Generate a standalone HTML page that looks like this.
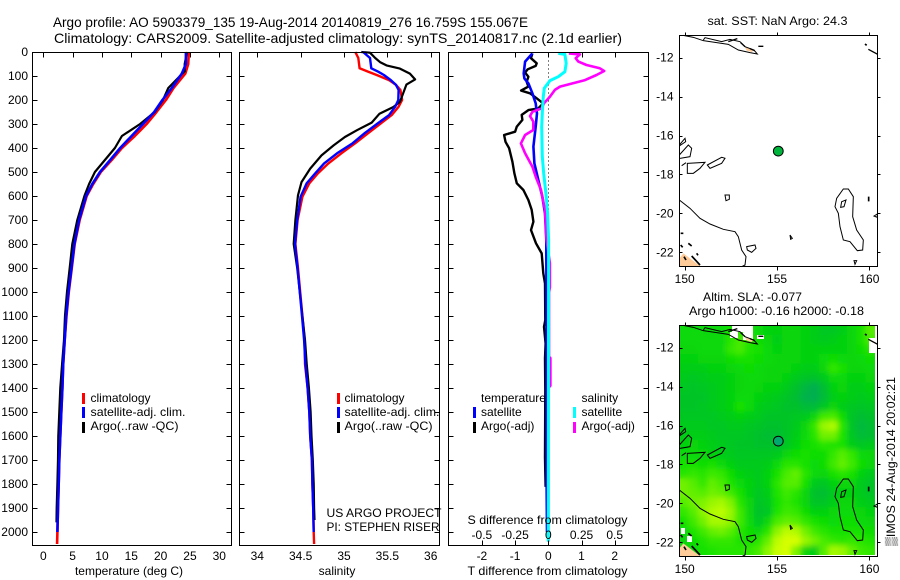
<!DOCTYPE html>
<html>
<head>
<meta charset="utf-8">
<title>Argo profile</title>
<style>
html,body{margin:0;padding:0;background:#fff;}
svg{display:block;}
text{font-family:"Liberation Sans",Arial,sans-serif;font-size:12px;fill:#000;}
.ttl{font-size:14px;}
.mid{text-anchor:middle;}
.end{text-anchor:end;}
</style>
</head>
<body>
<svg id="fig" xmlns="http://www.w3.org/2000/svg" width="900" height="580" viewBox="0 0 900 580">
<defs>
<filter id="soften" filterUnits="userSpaceOnUse" x="679.3" y="325.3" width="195.7" height="229.7">
  <feGaussianBlur in="SourceGraphic" stdDeviation="3" result="b"/>
  <feMerge><feMergeNode in="SourceGraphic"/><feMergeNode in="b"/></feMerge>
</filter>
<g id="coast" transform="translate(650,0) scale(0.33333)" fill="none" stroke="#000" stroke-width="3">
  <path fill="#ffcc99" stroke="none" d="M88,800 L88,775 L100,760 L150,798 L150,800 Z M285,142 L312,150 L305,156 L290,152 Z M656,148 L672,155 L668,158 Z"/>
  <path d="M100,106 L130,112 L160,122 L200,128 L235,133 L265,150 L300,158 L322,162 L312,150 L285,140 L270,125 L240,118 L215,125 L165,113 L160,120"/>
  <path stroke-width="4" d="M235,125 L262,116 M272,128 L285,140 M300,146 L314,152 M325,139 L340,139 M655,148 L683,163"/>
  <path d="M88,435 L105,415 L107,425 L88,438 M88,465 L115,435 L125,445 L120,470 L90,475 M95,497 L108,488 M112,490 L165,487 L150,505 L130,520 L112,520 Z M172,495 L215,472 L225,475 L215,490 L180,505 Z M225,585 L238,585 L238,598 L228,602 Z"/>
  <path d="M88,600 L120,625 L150,655 L180,672 L220,688 L255,695 L265,710 L275,750 L288,770 L285,795 L275,800"/>
  <path d="M290,740 L315,735 L318,745 L305,757 L292,750 Z M420,705 L427,715 L422,718 Z M612,782 L620,782 L615,793 Z M672,648 L682,642 L682,652 Z"/>
  <path d="M580,567 L595,567 L610,590 L608,650 L620,690 L640,720 L638,750 L622,752 L600,725 L580,720 L570,680 L565,640 L555,620 L560,595 Z M575,605 L588,600 L582,620 L572,622 Z"/>
  <path stroke-width="5" d="M656,590 L656,604 M645,132 L650,136 M92,700 L100,700 M92,735 L98,742 M115,730 L125,738 M102,770 L108,780 M125,768 L150,795 M140,760 L144,766"/>
</g>
</defs>
<rect width="900" height="580" fill="#fff"/>

<text class="ttl" x="53" y="27" textLength="475" lengthAdjust="spacingAndGlyphs">Argo profile: AO 5903379_135 19-Aug-2014 20140819_276 16.759S 155.067E</text>
<text class="ttl" x="54" y="43" textLength="568" lengthAdjust="spacingAndGlyphs">Climatology: CARS2009. Satellite-adjusted climatology: synTS_20140817.nc (2.1d earlier)</text>

<g id="p1"></g>
<g id="p2"></g>
<g id="p3"></g>
<g id="m1"></g>
<g id="m2"></g>

<g>
  <rect x="82" y="393" width="3" height="11" fill="#f00"/>
  <rect x="82" y="407" width="3" height="11" fill="#00f"/>
  <rect x="82" y="422" width="3" height="11" fill="#000"/>
  <text x="90.5" y="402">climatology</text>
  <text x="90.5" y="416" textLength="95" lengthAdjust="spacingAndGlyphs">satellite-adj. clim.</text>
  <text x="90.5" y="430" textLength="88" lengthAdjust="spacingAndGlyphs">Argo(..raw -QC)</text>
</g>
<g>
  <rect x="337" y="393" width="3" height="11" fill="#f00"/>
  <rect x="337" y="407" width="3" height="11" fill="#00f"/>
  <rect x="337" y="422" width="3" height="11" fill="#000"/>
  <text x="344.5" y="402">climatology</text>
  <text x="344.5" y="416" textLength="95" lengthAdjust="spacingAndGlyphs">satellite-adj. clim.</text>
  <text x="344.5" y="430" textLength="88" lengthAdjust="spacingAndGlyphs">Argo(..raw -QC)</text>
</g>
<g>
  <text x="481" y="402" textLength="65" lengthAdjust="spacingAndGlyphs">temperature</text>
  <text x="581.5" y="402">salinity</text>
  <rect x="473" y="407" width="3" height="11" fill="#00f"/>
  <rect x="473" y="422" width="3" height="11" fill="#000"/>
  <rect x="573" y="407" width="3" height="11" fill="#0ff"/>
  <rect x="573" y="422" width="3" height="11" fill="#f0f"/>
  <text x="481" y="416">satellite</text>
  <text x="481" y="430">Argo(-adj)</text>
  <text x="581.5" y="416">satellite</text>
  <text x="581.5" y="430">Argo(-adj)</text>
</g>

<text x="326.5" y="517" textLength="115" lengthAdjust="spacingAndGlyphs">US ARGO PROJECT</text>
<text x="326.5" y="531" textLength="113" lengthAdjust="spacingAndGlyphs">PI: STEPHEN RISER</text>
<text x="467.5" y="524" textLength="160" lengthAdjust="spacingAndGlyphs">S difference from climatology</text>

<text class="mid" x="129" y="575">temperature (deg C)</text>
<text class="mid" x="337" y="575">salinity</text>
<text x="467.5" y="575" textLength="160" lengthAdjust="spacingAndGlyphs">T difference from climatology</text>

<text x="707.5" y="25" textLength="140" lengthAdjust="spacingAndGlyphs">sat. SST: NaN Argo: 24.3</text>
<text x="703" y="301" textLength="99" lengthAdjust="spacingAndGlyphs">Altim. SLA: -0.077</text>
<text x="689" y="315" textLength="175" lengthAdjust="spacingAndGlyphs">Argo h1000: -0.16 h2000: -0.18</text>
<text transform="translate(895,546) rotate(-90)" textLength="169" lengthAdjust="spacingAndGlyphs">▒IMOS 24-Aug-2014 20:02:21</text>

<script>
/* depth axis */
const depthTicks = [0,100,200,300,400,500,600,700,800,900,1000,1100,1200,1300,1400,1500,1600,1700,1800,1900,2000];
/* temperature panel */
const tempTicks = [0,5,10,15,20,25,30];
const tempDepths = [0,50,90,150,200,250,300,350,400,450,500,550,600,700,800,900,1000,1100,1200,1300,1400,1500,1600,1700,1800,1900,2000,2050];
const tempClim = [24.8,24.7,24.2,22.2,20.9,19.3,17.6,15.6,13.4,11.65,9.8,8.5,7.4,6.2,5.35,4.85,4.35,3.95,3.65,3.4,3.25,3.07,2.9,2.73,2.62,2.5,2.4,2.35];
const tempSat = [24.3,24.3,23.6,21.9,20.3,18.9,17,15.05,13.1,11.4,9.66,8.35,7.3,6.1,5.3,4.8,4.3,3.9,3.65,3.4,3.25,3.07,2.9,2.73,2.62,2.5,2.4];
const tempArgoDepths = [0,50,80,100,150,200,250,300,350,400,450,500,550,600,700,800,900,1000,1100,1200,1300,1400,1500,1600,1700,1800,1900,1960];
const tempArgo = [24.5,24.1,24.1,23.3,21.3,20.4,19,16.5,13.4,12.2,10.5,8.8,7.8,7,5.8,4.95,4.5,4.04,3.7,3.53,3.2,2.9,2.73,2.56,2.5,2.4,2.28,2.25];
/* salinity panel */
const salTicks = [34,34.5,35,35.5,36];
const salTickLabels = ["34","34.5","35","35.5","36"];
const salDepths = [0,25,68,82,96,117,137,158,200,228,263,300,338,380,422,464,505,547,603,700,800,900,1000,1100,1200,1300,1400,1500,1600,1700,1800,1900,2000,2050];
const salClim = [35.13,35.165,35.18,35.28,35.377,35.52,35.6,35.65,35.67,35.63,35.55,35.415,35.28,35.13,34.97,34.82,34.7,34.6,34.52,34.465,34.44,34.47,34.495,34.52,34.545,34.55,34.58,34.6,34.61,34.63,34.635,34.645,34.65,34.655];
const salSat = [35.22,35.3,35.315,35.395,35.46,35.54,35.6,35.63,35.626,35.59,35.52,35.38,35.24,35.1,34.92,34.77,34.67,34.57,34.5,34.46,34.435,34.465,34.49,34.515,34.54,34.555,34.58,34.6,34.61,34.63,34.635,34.645,34.65];
const salArgoDepths = [0,3,25,42,56,69,90,114,136,174,208,229,257,294,326,354,389,431,486,542,597,700,800,900,1000,1100,1200,1300,1400,1500,1600,1700,1800,1900,1950];
const salArgo = [35.2,35.3,35.36,35.415,35.49,35.645,35.76,35.82,35.72,35.68,35.645,35.57,35.41,35.32,35.15,35.01,34.88,34.74,34.61,34.51,34.47,34.44,34.42,34.46,34.49,34.52,34.55,34.57,34.595,34.615,34.625,34.64,34.65,34.655,34.66];
/* difference panel */
const tDiffTicks = [-2,-1,0,1,2];
const sDiffTicks = [-0.5,-0.25,0,0.25,0.5];
const sDiffTickLabels = ["-0.5","-0.25","0","0.25","0.5"];
const tArgoDepths = [6,26,47,58,72,86,103,124,144,161,172,186,214,235,242,262,283,311,332,346,374,401,457,506,547,575,617,658,707,742,797,839,922,964,1117,1145,1214,1276,1408,1690,1812];
const tArgoDiff = [-0.48,-0.52,-0.35,-0.38,-0.62,-0.7,-0.6,-0.65,-0.6,-0.82,-0.55,-0.42,-0.15,-0.3,-0.6,-0.8,-0.78,-0.95,-1,-1.33,-1.29,-1.18,-1.08,-1.02,-0.95,-0.75,-0.6,-0.5,-0.45,-0.52,-0.37,-0.2,-0.15,-0.1,-0.09,-0.13,-0.08,-0.1,-0.09,-0.1,-0.08];
const tSatDepths = [6,40,89,110,131,172,214,256,311,394,464,533,603,672,783,1200,1800,2000];
const tSatDiff = [-0.48,-0.7,-0.74,-0.72,-0.6,-0.48,-0.38,-0.34,-0.38,-0.45,-0.42,-0.3,-0.18,-0.1,-0.06,-0.05,-0.05,-0.04];
const sArgoDepths = [6,10,26,40,54,68,79,96,117,128,144,158,186,214,235,249,267,290,325,346,381,422,478,519,575,658,783,880,980,1000,1270,1275,1390,1400,2040];
const sArgoDiff = [0.155,0.238,0.206,0.226,0.288,0.388,0.421,0.363,0.276,0.2,0.088,0.05,0.0125,-0.033,-0.05,-0.12,-0.138,-0.113,-0.113,-0.175,-0.206,-0.175,-0.12,-0.095,-0.055,-0.025,-0.0125,0.012,0.012,0.005,0.005,0.016,0.016,0,0];
const sSatDepths = [6,10,47,82,103,119,151,186,228,311,436,506,589,672,783,2040];
const sSatDiff = [0.075,0.125,0.135,0.125,0.075,0.0125,-0.03,-0.038,-0.043,-0.05,-0.045,-0.035,-0.018,-0.005,0.0025,0];
/* maps */
const lonTicks = [150,155,160];
const latTicks = [-12,-14,-16,-18,-20,-22];
const profileLon = [155.067];
const profileLat = [-16.759];
/* sea level anomaly, centimetres, rows north to south, half-degree cells */
const slaGrid = [
[-2,-2,-2,-3,-2,0,2,0,-2,-4,-4,-3,-3,-4,-5,-7,-7,-5,-3,0,6],
[-2,-2,-2,-2,-2,2,5,2,-1,-3,-5,-3,-3,-4,-5,-6,-5,-4,-3,0,5],
[-3,-3,-2,-2,-2,3,5,1,0,-2,-4,-3,-3,-4,-4,-4,-4,-4,-3,-1,2],
[-4,-4,-3,-3,-3,-1,0,0,-1,-2,-3,-3,-3,-4,-4,-2,-1,-2,-3,-2,-1],
[-5,-5,-5,-4,-4,-3,-2,-1,-2,-3,-3,-3,-4,-5,-5,-3,3,0,-3,-3,-2],
[-6,-7,-6,-5,-5,-4,-3,-2,-2,-3,-3,-4,-6,-8,-9,-6,-2,-2,-4,-4,-3],
[-7,-8,-7,-6,-5,-4,-3,-2,-3,-4,-4,-6,-9,-13,-16,-10,-4,-3,-5,-5,-4],
[-8,-8,-8,-6,-5,-4,-2,-2,-4,-5,-6,-8,-10,-15,-16,-11,-5,-4,-5,-6,-5],
[-8,-8,-7,-6,-5,-4,0,-2,-5,-6,-7,-9,-9,-11,-11,-7,-3,-5,-7,-8,-7],
[-7,-7,-7,-7,-6,-5,-4,-5,-6,-8,-8,-8,-7,-6,-3,4,5,-1,-8,-10,-9],
[-6,-6,-6,-7,-7,-6,-6,-7,-8,-9,-9,-8,-6,-3,3,11,13,2,-8,-12,-10],
[-5,-5,-5,-6,-7,-7,-7,-8,-9,-10,-10,-8,-5,-2,2,8,8,1,-7,-11,-10],
[-4,-3,-4,-5,-6,-7,-8,-8,-9,-9,-10,-7,-4,-1,0,2,1,0,-5,-7,-6],
[-2,-2,-3,-4,-5,-6,-7,-7,-7,-7,-6,-3,-1,0,-1,-1,3,6,3,-2,-3],
[0,0,-1,0,-2,-4,-6,-6,-6,-5,-2,2,2,0,-2,-1,4,7,4,-1,-3],
[2,3,2,4,3,-1,-4,-5,-6,-4,0,5,7,2,-2,-3,0,2,0,-4,-6],
[8,6,3,7,5,1,-2,-4,-6,-4,2,6,6,0,-6,-7,-4,-3,-3,-6,-8],
[8,7,6,8,7,4,0,-4,-7,-5,1,4,2,-3,-9,-10,-6,-4,-4,-6,-8],
[6,8,9,11,12,9,2,-3,-8,-6,0,3,1,-3,-8,-8,-5,-3,-3,-5,-6],
[3,6,10,13,14,11,4,-3,-9,-7,1,4,3,-1,-4,-4,-3,-2,-2,-3,-4],
[0,4,8,12,12,10,4,-2,-7,-3,5,7,6,3,0,-1,-2,-1,-1,-2,-3],
[-2,1,4,7,8,6,2,-1,-3,2,10,14,13,8,4,2,0,0,0,0,-1],
[-3,-1,1,3,3,3,1,0,2,7,14,17,17,11,8,5,3,2,3,2,1],
[-3,-2,0,1,2,2,2,3,5,10,15,17,9,-3,-5,6,12,11,7,4,3]
];

const NS = 'http://www.w3.org/2000/svg';
function yD(d){ return 52 + 0.24 * d; }
function xTemp(v){ return 43.3 + 5.867 * v; }
function xSal(v){ return 344 + 86.7 * (v - 35); }
function xTDiff(v){ return 548.3 + 33.2 * v; }
function xSDiff(v){ return 548.3 + 132.8 * v; }
function lonX(v){ return 684.7 + 18.47 * (v - 150); }
function latY(v, top){ return top + 22.4 + 19.46 * (-12 - v); }

function node(parent, tag){
  const el = document.createElementNS(NS, tag);
  parent.appendChild(el);
  return el;
}
function seg(parent, x1, y1, x2, y2){
  const el = node(parent, 'line');
  el.setAttribute('x1', x1); el.setAttribute('y1', y1);
  el.setAttribute('x2', x2); el.setAttribute('y2', y2);
  el.setAttribute('stroke', '#000');
  el.setAttribute('stroke-width', 1);
  el.setAttribute('shape-rendering', 'crispEdges');
  return el;
}
function label(parent, x, y, s, cls){
  const el = node(parent, 'text');
  el.setAttribute('x', x); el.setAttribute('y', y);
  el.setAttribute('class', cls);
  el.textContent = s;
  return el;
}
function frame(parent, x, y, w, h){
  const el = node(parent, 'rect');
  el.setAttribute('x', x); el.setAttribute('y', y);
  el.setAttribute('width', w); el.setAttribute('height', h);
  el.setAttribute('fill', 'none');
  el.setAttribute('stroke', '#000');
  el.setAttribute('stroke-width', 1);
  el.setAttribute('shape-rendering', 'crispEdges');
  return el;
}
function curve(parent, depths, vals, xf, color, w){
  const el = node(parent, 'polyline');
  el.setAttribute('points', vals.map((v, i) => xf(v).toFixed(1) + ',' + yD(depths[i]).toFixed(1)).join(' '));
  el.setAttribute('fill', 'none');
  el.setAttribute('stroke', color);
  el.setAttribute('stroke-width', w);
  el.setAttribute('stroke-linejoin', 'round');
  return el;
}
function depthAxis(parent, left, right, withLabels){
  depthTicks.forEach(d => {
    const y = Math.round(yD(d)) + 0.5;
    let el = seg(parent, left, y, left + 5, y);
    
    
    el = seg(parent, right - 5, y, right, y);
    
    
    if (withLabels) {
      el = label(parent, 28, yD(d) + 4, String(d), 'end');
      
      
    }
  });
}

/* temperature panel */
const p1 = document.getElementById('p1');
let c;
c = curve(p1, tempDepths, tempClim, xTemp, '#f00', 2.6);


c = curve(p1, tempArgoDepths, tempArgo, xTemp, '#000', 2.2);


c = curve(p1, tempDepths.slice(0, tempSat.length), tempSat, xTemp, '#00f', 2.6);


c = frame(p1, 32.5, 52.5, 199, 493);


depthAxis(p1, 32.5, 231.5, true);
tempTicks.forEach(v => {
  const x = Math.round(xTemp(v)) + 0.5;
  let el = seg(p1, x, 52.5, x, 57.5);
  
  
  el = label(p1, xTemp(v), 560, String(v), 'mid');
  
  
});

/* salinity panel */
const p2 = document.getElementById('p2');
c = curve(p2, salDepths, salClim, xSal, '#f00', 2.4);


c = curve(p2, salArgoDepths, salArgo, xSal, '#000', 2.2);


c = curve(p2, salDepths.slice(0, salSat.length), salSat, xSal, '#00f', 2.4);


c = frame(p2, 239.5, 52.5, 200, 493);


depthAxis(p2, 239.5, 439.5, false);
salTicks.forEach((v, i) => {
  const x = Math.round(xSal(v)) + 0.5;
  let el = seg(p2, x, 52.5, x, 57.5);
  
  
  el = label(p2, xSal(v), 560, salTickLabels[i], 'mid');
  
  
});

/* difference panel */
const p3 = document.getElementById('p3');
const zeroLine = seg(p3, 548.5, 52.5, 548.5, 545);
zeroLine.setAttribute('stroke-dasharray', '1 3');


c = curve(p3, tArgoDepths, tArgoDiff, xTDiff, '#000', 2.4);


c = curve(p3, tSatDepths, tSatDiff, xTDiff, '#00f', 2.6);


c = curve(p3, sArgoDepths, sArgoDiff, xSDiff, '#f0f', 2.6);


c = curve(p3, sSatDepths, sSatDiff, xSDiff, '#0ff', 3);


c = frame(p3, 448.5, 52.5, 200, 493);


depthAxis(p3, 448.5, 648.5, false);
tDiffTicks.forEach(v => {
  const x = Math.round(xTDiff(v)) + 0.5;
  let el = seg(p3, x, 52.5, x, 57.5);
  
  
  el = label(p3, xTDiff(v), 560, String(v), 'mid');
  
  
});
sDiffTicks.forEach((v, i) => {
  const x = Math.round(xSDiff(v)) + 0.5;
  let el = seg(p3, x, 540.5, x, 545.5);
  
  
  el = label(p3, xSDiff(v), 539, sDiffTickLabels[i], 'mid');
  
  
});

/* colour scale for the SLA map */
function slaColor(v){
  const stops = [[-20,0,165,100],[-10,0,190,50],[-5,0,205,20],[0,20,225,0],[5,70,235,0],[10,140,245,0],[15,200,255,0],[20,235,255,0]];
  for (let i = 1; i < stops.length; i++) {
    if (v <= stops[i][0]) {
      const a = stops[i-1], b = stops[i], t = Math.max(0, (v - a[0]) / (b[0] - a[0]));
      return 'rgb(' + [1,2,3].map(k => Math.round(a[k] + t * (b[k] - a[k]))).join(',') + ')';
    }
  }
  return 'rgb(235,255,0)';
}

function drawMap(id, top, heat){
  const g = document.getElementById(id);
  if (heat) {
    const cw = 195.7 / slaGrid[0].length, ch = 229.7 / slaGrid.length;
    const cells = node(g, 'g');
    cells.setAttribute('filter', 'url(#soften)');
    
    
    slaGrid.forEach((row, r) => row.forEach((v, k) => {
      const el = node(cells, 'rect');
      el.setAttribute('x', (679.3 + k * cw).toFixed(2));
      el.setAttribute('y', (top + r * ch).toFixed(2));
      el.setAttribute('width', (cw + 0.3).toFixed(2));
      el.setAttribute('height', (ch + 0.3).toFixed(2));
      el.setAttribute('fill', slaColor(v));
      el.setAttribute('shape-rendering', 'crispEdges');
      
      
    }));
    const masks = node(g, 'path');
    masks.setAttribute('d', 'M732,326h12v6h-12z M730,332h8v6h-8z M743,326h10v14h-10z M757,335h7v4h-7z M869,338h6v15h-6z M681,528h4v6h-4z M687,536h5v6h-5z');
    masks.setAttribute('transform', 'translate(0,' + (top - 325.3) + ')');
    masks.setAttribute('fill', '#fff');
    
    
  }
  const coast = node(g, 'use');
  coast.setAttribute('href', '#coast');
  coast.setAttribute('transform', 'translate(0,' + (top - 35.3) + ')');
  
  

  const ring = node(g, 'circle');
  ring.setAttribute('cx', lonX(profileLon[0]));
  ring.setAttribute('cy', latY(profileLat[0], top) + 0.8);
  ring.setAttribute('r', 4.9);
  ring.setAttribute('fill', heat ? '#00aa6e' : '#00b43c');
  ring.setAttribute('stroke', '#000');
  ring.setAttribute('stroke-width', 1);
  
  

  const bottom = top + 231.4, left = 679.5, right = 877.5;
  const box = frame(g, left, Math.floor(top) + 0.5, right - left, Math.round(bottom - top));
  
  
  lonTicks.forEach(v => {
    const x = Math.round(lonX(v)) + 0.5;
    let el = seg(g, x, Math.floor(top) - 2.5, x, Math.floor(top) + 0.5);
    
    
    el = seg(g, x, Math.floor(top) + 231.5, x, Math.floor(top) + 235.5);
    
    
    el = label(g, lonX(v), Math.floor(top) + 248, String(v), 'mid');
    
    
  });
  latTicks.forEach(v => {
    const y = Math.round(latY(v, top)) + 0.5;
    let el = seg(g, left, y, left + 3, y);
    
    
    el = seg(g, right, y, right + 3, y);
    
    
    el = label(g, 673.5, latY(v, top) + 4, String(v), 'end');
    
    
  });
}
drawMap('m1', 35.3, false);
drawMap('m2', 325.3, true);
</script>
</svg>
</body>
</html>
